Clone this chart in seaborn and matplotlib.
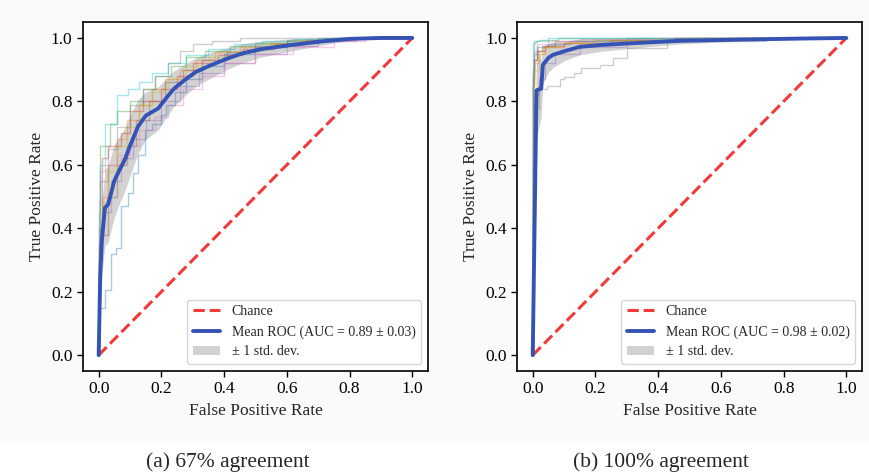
import numpy as np
import matplotlib
matplotlib.use("Agg")
import matplotlib.pyplot as plt
import matplotlib.patches as mpatches
import seaborn as sns

# ---- panel (a): 67% agreement ----
# per-fold ROC staircases (fpr, tpr)
folds_a = [
    ([0, 0.02, 0.04, 0.055, 0.072, 0.093, 0.11, 0.126, 0.147, 0.17, 0.2, 0.216, 0.243, 0.28, 0.33, 0.4, 0.5, 0.6, 0.7, 0.8, 1.0],
     [0, 0.15, 0.205, 0.32, 0.337, 0.47, 0.51, 0.575, 0.63, 0.71, 0.73, 0.757, 0.79, 0.83, 0.87, 0.91, 0.95, 0.97, 0.985, 1.0, 1.0]),
    ([0, 0.01, 0.03, 0.06, 0.09, 0.13, 0.17, 0.21, 0.26, 0.31, 0.37, 0.45, 0.55, 0.68, 0.82, 1.0],
     [0, 0.35, 0.5, 0.6, 0.68, 0.74, 0.79, 0.84, 0.87, 0.9, 0.93, 0.955, 0.97, 0.985, 0.995, 1.0]),
    ([0, 0.005, 0.035, 0.06, 0.1, 0.14, 0.18, 0.23, 0.28, 0.34, 0.42, 0.5, 0.6, 0.72, 1.0],
     [0, 0.3, 0.66, 0.73, 0.77, 0.8, 0.84, 0.88, 0.91, 0.94, 0.96, 0.975, 0.985, 0.995, 1.0]),
    ([0, 0.01, 0.03, 0.07, 0.1, 0.14, 0.2, 0.25, 0.3, 0.38, 0.46, 0.56, 0.66, 0.8, 1.0],
     [0, 0.4, 0.62, 0.66, 0.7, 0.77, 0.8, 0.84, 0.88, 0.92, 0.945, 0.965, 0.98, 0.995, 1.0]),
    ([0, 0.01, 0.04, 0.07, 0.11, 0.15, 0.2, 0.26, 0.32, 0.4, 0.5, 0.6, 0.7, 0.82, 1.0],
     [0, 0.3, 0.45, 0.55, 0.62, 0.68, 0.74, 0.8, 0.85, 0.89, 0.92, 0.95, 0.975, 0.99, 1.0]),
    ([0, 0.005, 0.03, 0.06, 0.09, 0.12, 0.16, 0.21, 0.27, 0.33, 0.41, 0.5, 0.6, 0.75, 1.0],
     [0, 0.25, 0.38, 0.5, 0.6, 0.66, 0.74, 0.8, 0.86, 0.9, 0.93, 0.955, 0.975, 0.99, 1.0]),
    ([0, 0.004, 0.02, 0.06, 0.1, 0.13, 0.18, 0.22, 0.27, 0.33, 0.4, 0.5, 0.62, 0.75, 0.85, 1.0],
     [0, 0.49, 0.58, 0.6, 0.63, 0.66, 0.71, 0.75, 0.79, 0.84, 0.88, 0.92, 0.95, 0.97, 0.99, 1.0]),
    ([0, 0.005, 0.03, 0.06, 0.1, 0.14, 0.18, 0.22, 0.26, 0.3, 0.36, 0.45, 0.6, 1.0],
     [0, 0.35, 0.55, 0.65, 0.72, 0.79, 0.84, 0.88, 0.92, 0.96, 0.98, 0.99, 1.0, 1.0]),
    ([0, 0.01, 0.03, 0.06, 0.09, 0.13, 0.17, 0.22, 0.28, 0.35, 0.43, 0.52, 0.64, 0.78, 1.0],
     [0, 0.3, 0.48, 0.58, 0.66, 0.72, 0.79, 0.83, 0.87, 0.91, 0.94, 0.96, 0.98, 0.995, 1.0]),
    ([0, 0.005, 0.02, 0.06, 0.092, 0.13, 0.17, 0.22, 0.28, 0.35, 0.43, 0.52, 0.62, 0.75, 1.0],
     [0, 0.45, 0.6, 0.73, 0.82, 0.84, 0.86, 0.89, 0.92, 0.945, 0.965, 0.98, 0.99, 0.997, 1.0]),
]
mean_fpr_a = [0, 0.005, 0.01, 0.02, 0.03, 0.05, 0.067, 0.083, 0.1, 0.125, 0.15, 0.19, 0.215,
              0.24, 0.275, 0.31, 0.36, 0.41, 0.46, 0.52, 0.6, 0.7, 0.8, 0.9, 1.0]
mean_tpr_a = [0, 0.25, 0.36, 0.465, 0.475, 0.55, 0.585, 0.615, 0.66, 0.72, 0.755, 0.778, 0.81,
              0.84, 0.868, 0.893, 0.915, 0.935, 0.952, 0.965, 0.976, 0.988, 0.997, 1.0, 1.0]
std_tpr_a = [0, 0.09, 0.11, 0.12, 0.12, 0.115, 0.105, 0.1, 0.095, 0.085, 0.075, 0.068, 0.062,
             0.056, 0.05, 0.045, 0.04, 0.034, 0.03, 0.025, 0.02, 0.013, 0.005, 0, 0]
auc_a = (0.89, 0.03)

# ---- panel (b): 100% agreement ----
folds_b = [
    ([0, 0.004, 0.015, 0.05, 0.12, 0.3, 0.55, 1.0], [0, 0.88, 0.95, 0.97, 0.98, 0.99, 1.0, 1.0]),
    ([0, 0.005, 0.02, 0.04, 0.1, 0.25, 0.5, 1.0], [0, 0.85, 0.92, 0.95, 0.97, 0.985, 0.995, 1.0]),
    ([0, 0.005, 0.02, 0.08, 0.3, 1.0], [0, 0.9, 0.99, 0.995, 1.0, 1.0]),
    ([0, 0.005, 0.015, 0.04, 0.1, 0.25, 0.45, 1.0], [0, 0.87, 0.93, 0.96, 0.975, 0.985, 0.995, 1.0]),
    ([0, 0.005, 0.02, 0.04, 0.07, 0.15, 0.3, 0.55, 1.0], [0, 0.6, 0.82, 0.87, 0.92, 0.95, 0.97, 0.99, 1.0]),
    ([0, 0.004, 0.012, 0.03, 0.07, 0.2, 0.45, 1.0], [0, 0.85, 0.93, 0.96, 0.975, 0.99, 0.995, 1.0]),
    ([0, 0.004, 0.015, 0.05, 0.15, 0.4, 1.0], [0, 0.9, 0.96, 0.98, 0.99, 0.997, 1.0]),
    ([0, 0.005, 0.02, 0.044, 0.086, 0.1, 0.13, 0.155, 0.214, 0.256, 0.3, 0.427, 0.745, 0.81, 1.0],
     [0, 0.6, 0.78, 0.84, 0.85, 0.87, 0.878, 0.89, 0.905, 0.915, 0.937, 0.967, 0.989, 1.0, 1.0]),
    ([0, 0.005, 0.02, 0.03, 0.08, 0.2, 0.5, 1.0], [0, 0.55, 0.9, 0.95, 0.97, 0.985, 0.995, 1.0]),
    ([0, 0.0, 0.01, 0.05, 0.2, 1.0], [0, 0.98, 0.985, 0.99, 1.0, 1.0]),
]
mean_fpr_b = [0, 0.012, 0.027, 0.032, 0.05, 0.065, 0.1, 0.15, 0.22, 0.33, 0.47, 0.67, 0.85, 1.0]
mean_tpr_b = [0, 0.835, 0.84, 0.915, 0.937, 0.947, 0.958, 0.972, 0.978, 0.984, 0.991, 0.995, 0.998, 1.0]
std_tpr_b = [0, 0.15, 0.09, 0.06, 0.045, 0.04, 0.03, 0.025, 0.02, 0.015, 0.01, 0.005, 0.002, 0]
auc_b = (0.98, 0.02)

captions = ["(a) 67% agreement", "(b) 100% agreement"]

sns.set_theme(style="ticks")
plt.rcParams["font.family"] = ["Liberation Serif", "DejaVu Serif"]
plt.rcParams["axes.edgecolor"] = "black"
plt.rcParams["axes.linewidth"] = 1.2
plt.rcParams["xtick.color"] = "black"
plt.rcParams["ytick.color"] = "black"

fig = plt.figure(figsize=(8.69, 4.76), dpi=100)
fig.patches.append(mpatches.Rectangle((0, 0.076), 1, 0.924, transform=fig.transFigure,
                                      color="#fafafb", zorder=-10))
positions = [[0.0955, 0.2206, 0.397, 0.733], [0.595, 0.2206, 0.397, 0.733]]
caption_x = [0.262, 0.761]
palette = sns.color_palette("tab10", 10)

panels = [(folds_a, mean_fpr_a, mean_tpr_a, std_tpr_a, auc_a),
          (folds_b, mean_fpr_b, mean_tpr_b, std_tpr_b, auc_b)]

for k, (folds, mfpr, mtpr, mstd, auc) in enumerate(panels):
    ax = fig.add_axes(positions[k])
    for i, (f, t) in enumerate(folds):
        sns.lineplot(x=f, y=t, ax=ax, estimator=None, sort=False, color=palette[i],
                     alpha=0.38, lw=1, drawstyle="steps-pre")
    ax.plot([0, 1], [0, 1], linestyle="--", lw=2.2, color="#f23a3a", label="Chance")
    sns.lineplot(x=mfpr, y=mtpr, ax=ax, estimator=None, sort=False, color="#3553b5",
                 lw=2.8, label="Mean ROC (AUC = %0.2f ± %0.2f)" % auc)
    m = np.array(mtpr)
    s = np.array(mstd)
    ax.fill_between(mfpr, np.maximum(m - s, 0), np.minimum(m + s, 1), color="grey",
                    alpha=0.35, lw=0, label="± 1 std. dev.")
    ax.set_xlim(-0.05, 1.05)
    ax.set_ylim(-0.05, 1.05)
    ax.set_xticks(np.arange(0, 1.01, 0.2))
    ax.set_yticks(np.arange(0, 1.01, 0.2))
    ax.tick_params(labelsize=12.5, length=4, width=1)
    ax.set_xlabel("False Positive Rate", fontsize=12.5)
    ax.set_ylabel("True Positive Rate", fontsize=12.5)
    ax.set_facecolor("white")
    h, l = ax.get_legend_handles_labels()
    ax.legend(h, l, loc="lower right", fontsize=10, frameon=True, edgecolor="#cccccc")
    fig.text(caption_x[k], 0.03, captions[k], ha="center", va="center", fontsize=15.5)

fig.savefig("out.png", dpi=100)
